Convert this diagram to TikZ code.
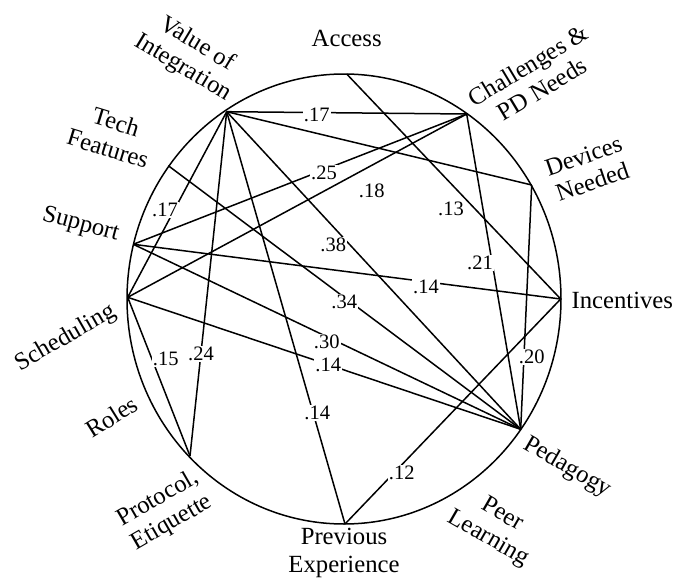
\documentclass[tikz,border=0pt]{standalone}
\usepackage{fontspec}
\setmainfont{Liberation Serif}
\begin{document}
\begin{tikzpicture}[x=1pt,y=-1pt,
  conn/.style={line width=1.5pt},
  rim/.style={line width=1.5pt},
  topic/.style={font=\fontsize{24.7}{27.5}\selectfont, align=center, inner sep=0pt},
  wt/.style={font=\fontsize{20.5}{22}\selectfont, fill=white, inner sep=1pt}]
\useasboundingbox (0,0) rectangle (681,581);
\draw[rim] (344,299) ellipse [x radius=217, y radius=225];
% points on the circle
\coordinate (A) at (346.7,74);
\coordinate (V) at (226.7,111.7);
\coordinate (C) at (466.7,114);
\coordinate (D) at (531.7,185);
\coordinate (I) at (560.7,299);
\coordinate (P) at (520.7,429.3);
\coordinate (E) at (345,524);
\coordinate (Pr) at (190,456);
\coordinate (Sch) at (127.7,297.3);
\coordinate (Sup) at (133.3,244.3);
\coordinate (T) at (168.3,165.7);
% connectors
\draw[conn] (V) -- (C);
\draw[conn] (V) -- (D);
\draw[conn] (V) -- (P);
\draw[conn] (V) -- (Sch);
\draw[conn] (V) -- (Pr);
\draw[conn] (V) -- (E);
\draw[conn] (Sup) -- (C);
\draw[conn] (Sch) -- (C);
\draw[conn] (A) -- (I);
\draw[conn] (C) -- (P);
\draw[conn] (T) -- (P);
\draw[conn] (Sup) -- (I);
\draw[conn] (Sup) -- (P);
\draw[conn] (Sch) -- (P);
\draw[conn] (D) -- (P);
\draw[conn] (Sch) -- (Pr);
\draw[conn] (E) -- (I);
% values
\node[wt] (l1) at (316.7,115) {.17};
\node[wt] (l2) at (324,173) {.25};
\node[wt] (l3) at (371.7,190.7) {.18};
\node[wt] (l4) at (451,209) {.13};
\node[wt] (l5) at (333.3,245) {.38};
\node[wt] (l6) at (480,263.3) {.21};
\node[wt] (l7) at (426,287.3) {.14};
\node[wt] (l8) at (344.3,301.7) {.34};
\node[wt] (l9) at (165,210) {.17};
\node[wt] (l10) at (326.7,341.7) {.30};
\node[wt] (l11) at (328.3,365) {.14};
\node[wt] (l12) at (165.7,359.3) {.15};
\node[wt] (l13) at (201,354) {.24};
\node[wt] (l14) at (317.3,413.3) {.14};
\node[wt] (l15) at (531.7,357.3) {.20};
\node[wt] (l16) at (401.7,473.3) {.12};
% topics
\node[topic] (nA) at (346.7,38) {Access};
\node[topic, rotate=-31] (nV) at (190,56) {Value of\\Integration};
\node[topic, rotate=-17] (nT) at (112,135) {Tech\\Features};
\node[topic, rotate=-15] (nSup) at (80.7,225) {Support};
\node[topic, rotate=30] (nSch) at (65.7,338.3) {Scheduling};
\node[topic, rotate=32] (nR) at (111.7,416.7) {Roles};
\node[topic, rotate=30] (nPr) at (165,511) {Protocol,\\Etiquette};
\node[topic] (nE) at (344,553) {Previous\\Experience};
\node[topic, rotate=-30] (nPL) at (495,527) {Peer\\Learning};
\node[topic, rotate=-30] (nP) at (567.3,467.3) {Pedagogy};
\node[topic] (nI) at (622.3,300) {Incentives};
\node[topic, rotate=19] (nD) at (588,169) {Devices\\Needed};
\node[topic, rotate=31] (nC) at (535,77) {Challenges \&\\PD Needs};
\end{tikzpicture}
\end{document}
